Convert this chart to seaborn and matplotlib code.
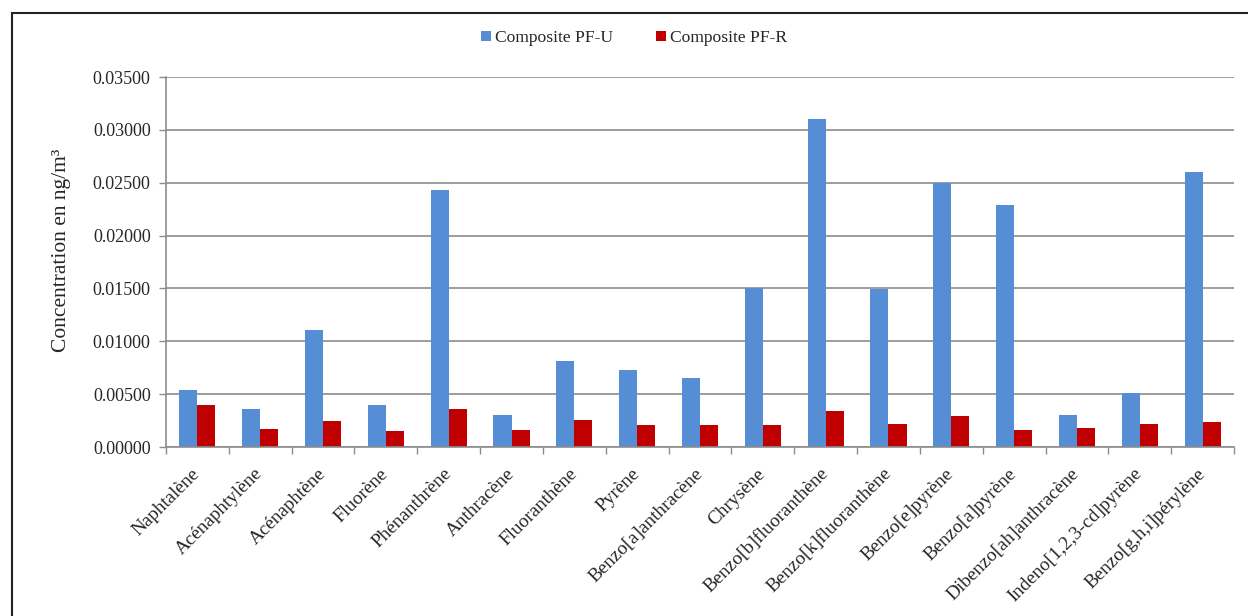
import matplotlib
matplotlib.use("Agg")
import matplotlib.pyplot as plt
import matplotlib.patches as mpatches
import matplotlib.transforms as mtransforms
import seaborn as sns
import pandas as pd
import numpy as np

compounds = ["Naphtalène", "Acénaphtylène", "Acénaphtène", "Fluorène", "Phénanthrène",
             "Anthracène", "Fluoranthène", "Pyrène", "Benzo[a]anthracène", "Chrysène",
             "Benzo[b]fluoranthène", "Benzo[k]fluoranthène", "Benzo[e]pyrène",
             "Benzo[a]pyrène", "Dibenzo[ah]anthracène", "Indeno[1,2,3-cd]pyrène",
             "Benzo[g,h,i]pérylène"]
pf_u = [0.0054, 0.0036, 0.0111, 0.0040, 0.0243, 0.0030, 0.0081, 0.0073, 0.0065, 0.0150,
        0.0310, 0.0149, 0.0250, 0.0229, 0.0030, 0.0051, 0.0260]
pf_r = [0.0040, 0.0017, 0.0025, 0.0015, 0.0036, 0.0016, 0.0026, 0.0021, 0.0021, 0.0021,
        0.0034, 0.0022, 0.0029, 0.0016, 0.0018, 0.0022, 0.0024]
series_names = ["Composite PF-U", "Composite PF-R"]
yticks = [0.0, 0.005, 0.010, 0.015, 0.020, 0.025, 0.030, 0.035]

df = pd.DataFrame({
    "compound": compounds * 2,
    "value": pf_u + pf_r,
    "series": [series_names[0]] * len(compounds) + [series_names[1]] * len(compounds),
})

sns.set_style("white")
plt.rcParams["font.family"] = ["Liberation Serif", "DejaVu Serif"]

fig = plt.figure(figsize=(12.48, 6.16), dpi=100)
ax = fig.add_axes([166/1248, 1 - 447/616, (1234-166)/1248, (447-77)/616])

palette = {series_names[0]: "#558ED5", series_names[1]: "#C00000"}
sns.barplot(data=df, x="compound", y="value", hue="series", palette=palette,
            width=0.575, gap=0, saturation=1, ax=ax, order=compounds,
            hue_order=series_names, errorbar=None, linewidth=0)

ax.set_ylim(0, 0.035)
ax.set_xlim(-0.5, len(compounds) - 0.5)
ax.set_yticks(yticks)
ax.set_yticklabels([f"{v:.5f}" for v in yticks], fontsize=13)
ax.yaxis.grid(True, color="#8c8c8c", linewidth=1.2)
ax.set_axisbelow(True)
for s in ["top", "right"]:
    ax.spines[s].set_visible(False)
for s in ["left", "bottom"]:
    ax.spines[s].set_color("#8c8c8c")
    ax.spines[s].set_linewidth(1.2)
ax.tick_params(axis="y", direction="out", length=5, width=1.0, color="#8c8c8c", pad=6, left=True)
ax.tick_params(axis="x", which="major", length=0, pad=6)
ax.set_xticks(np.arange(-0.5, len(compounds), 1.0), minor=True)
ax.tick_params(axis="x", which="minor", direction="out", length=5, width=1.0,
               color="#8c8c8c", bottom=True)

ax.set_xlabel("")
ax.set_ylabel("Concentration en ng/m³", fontsize=15.5)
ax.yaxis.set_label_coords((71 - 166) / 1068, (447 - 250) / 370)

offset = mtransforms.ScaledTranslation(-6/100, -10/100, fig.dpi_scale_trans)
for lab in ax.get_xticklabels():
    lab.set_rotation(45)
    lab.set_ha("right")
    lab.set_va("top")
    lab.set_rotation_mode("anchor")
    lab.set_fontsize(13.8)
    lab.set_transform(lab.get_transform() + offset)

leg = ax.get_legend()
handles, labels = ax.get_legend_handles_labels()
leg.remove()
fig.legend(handles, labels, loc="center", bbox_to_anchor=(634/1248, 1 - 38/616),
           ncol=2, frameon=False, fontsize=12.6, handlelength=0.55, handleheight=0.55,
           handletextpad=0.25, columnspacing=2.45)

border = mpatches.Rectangle((12/1248, -0.1), 1.2, 1 - 13/616 + 0.1, transform=fig.transFigure,
                            fill=False, edgecolor="#222222", linewidth=1.5, zorder=10)
fig.patches.append(border)

fig.savefig("out.png", dpi=100)
